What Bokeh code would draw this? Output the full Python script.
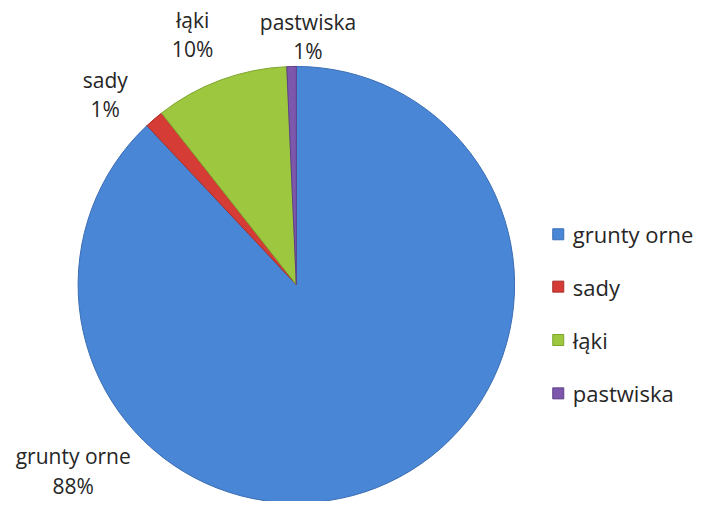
from math import pi
from bokeh.plotting import figure
from bokeh.models import Range1d, ColumnDataSource
from bokeh.core.properties import value
from bokeh.embed import file_html
from bokeh.resources import INLINE

categories = ["grunty orne", "sady", "łąki", "pastwiska"]
shares = [88.0, 1.4, 9.9, 0.7]
colors = ["#4A86D6", "#D63C36", "#9CC73E", "#7D57AC"]
edge_colors = ["#3A6DB3", "#A82E2A", "#7FA52F", "#5E4088"]

W, H = 701, 501
S = 0.97  # layout scale so the reference layout fits the page
p = figure(width=W, height=H, output_backend="svg", toolbar_location=None,
           x_range=Range1d(0, W), y_range=Range1d(0, H), min_border=0)
p.axis.visible = False
p.grid.visible = False
p.outline_line_color = None
p.background_fill_color = "white"
p.border_fill_color = "white"


def X(sx):
    return sx * S


def Y(sy):
    return H - sy * S


total = sum(shares)
cx, cy, r = X(305), Y(293), 225 * S
starts, ends = [], []
acc = 0.0
for s in shares:
    starts.append(pi / 2 - 2 * pi * acc / total)
    acc += s
    ends.append(pi / 2 - 2 * pi * acc / total)

src = ColumnDataSource(dict(start=starts, end=ends, color=colors, edge=edge_colors))
p.wedge(x=cx, y=cy, radius=r, start_angle="start", end_angle="end",
        direction="clock", fill_color="color", line_color="edge",
        line_width=1, source=src)

# data labels (two lines each)
label_x = [75, 108, 198, 317]
label_y = [470, 82, 20, 22]
pct = [f"{round(s / total * 100)}%" for s in shares]
font = value("Open Sans")
fs = "21px"
p.text(x=[X(v) for v in label_x], y=[Y(v) for v in label_y], text=categories,
       text_align="center", text_baseline="middle", text_font=font,
       text_font_size=fs, text_color="#262626")
p.text(x=[X(v) for v in label_x], y=[Y(v + 30) for v in label_y], text=pct,
       text_align="center", text_baseline="middle", text_font=font,
       text_font_size=fs, text_color="#262626")

# legend
leg_x = 575
leg_y = [241, 295, 350, 405]
p.scatter(x=[X(leg_x)] * 4, y=[Y(v) for v in leg_y], marker="square", size=11,
          fill_color=colors, line_color=edge_colors)
p.text(x=[X(leg_x + 15)] * 4, y=[Y(v) for v in leg_y], text=categories,
       text_align="left", text_baseline="middle", text_font=font,
       text_font_size="22px", text_color="#262626")

open("out.html", "w").write(file_html(p, INLINE))
